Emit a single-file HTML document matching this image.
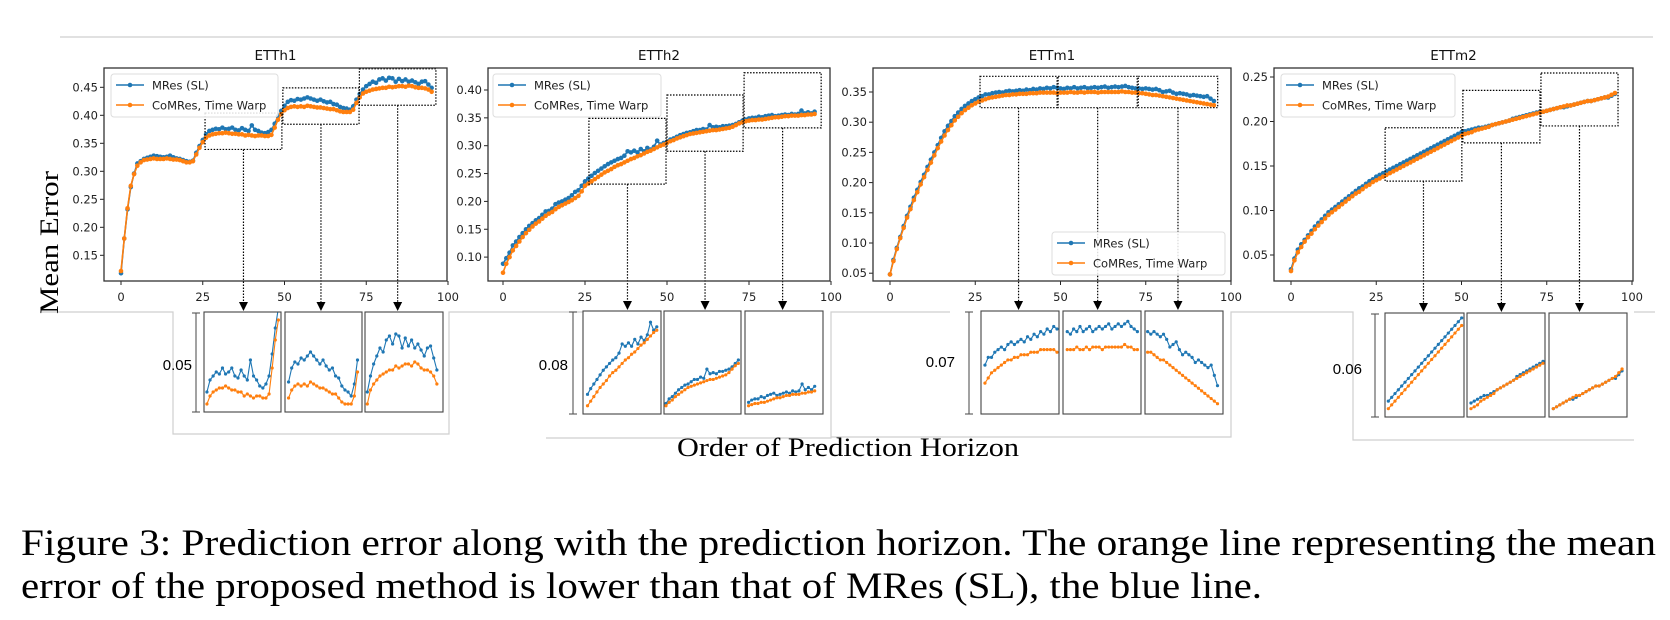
<!DOCTYPE html>
<html><head><meta charset="utf-8">
<style>
html,body{margin:0;padding:0;background:#fff;}
svg{display:block;}
.tk{font-family:"DejaVu Sans",sans-serif;font-size:11.5px;fill:#222;}
.ttl{font-family:"DejaVu Sans",sans-serif;font-size:13.5px;fill:#111;}
.lg{font-family:"DejaVu Sans",sans-serif;font-size:11.5px;fill:#222;}
.serif{font-family:"Liberation Serif",serif;fill:#000;}
.sb{font-family:"Liberation Sans",sans-serif;font-size:15px;fill:#000;}
</style></head>
<body>
<svg id="fig" width="1670" height="620" viewBox="0 0 1670 620" xmlns="http://www.w3.org/2000/svg">
<g id="frames" stroke="#cfcfcf" stroke-width="1.2" fill="none">
<line x1="60" y1="37" x2="1653" y2="37"/>
<polyline points="40,312 173,312 173,434 449,434 449,312 583,312"/>
<polyline points="546,438 831,438 831,312 950,312"/>
<polyline points="831,437 1231,437 1231,312 1353,312 1353,440 1634,440"/>
<line x1="1634" y1="312" x2="1655" y2="312"/>
</g>
<text class="serif" x="0" y="0" font-size="26" textLength="143" lengthAdjust="spacingAndGlyphs" transform="translate(58,243) rotate(-90)" dx="-71">Mean Error</text>
<text class="serif" x="677" y="456" font-size="26" textLength="342" lengthAdjust="spacingAndGlyphs">Order of Prediction Horizon</text>
<text class="serif" x="21" y="555" font-size="37" textLength="1635" lengthAdjust="spacingAndGlyphs">Figure 3: Prediction error along with the prediction horizon. The orange line representing the mean</text>
<text class="serif" x="21" y="598" font-size="37" textLength="1241" lengthAdjust="spacingAndGlyphs">error of the proposed method is lower than that of MRes (SL), the blue line.</text>
</svg>
<script>
const xTickLabels = [0, 25, 50, 75, 100];
const etth1Ticks = [0.15, 0.20, 0.25, 0.30, 0.35, 0.40, 0.45];
const etth2Ticks = [0.10, 0.15, 0.20, 0.25, 0.30, 0.35, 0.40];
const ettm1Ticks = [0.05, 0.10, 0.15, 0.20, 0.25, 0.30, 0.35];
const ettm2Ticks = [0.05, 0.10, 0.15, 0.20, 0.25];
const seriesNames = ['MRes (SL)', 'CoMRes, Time Warp'];
const scaleLabels = ['0.05', '0.08', '0.07', '0.06'];

const etth1MRes = [.118,.18,.232,.272,.296,.314,.318,.322,.324,.326,.328,.327,.326,.325,.326,.328,.325,.323,.322,.320,.318,.317,.319,.333,.345,.356,.366,.372,.374,.376,.375,.378,.375,.376,.378,.374,.373,.377,.374,.372,.382,.374,.372,.369,.368,.370,.374,.385,.398,.408,.417,.424,.427,.426,.429,.428,.430,.432,.430,.428,.426,.428,.425,.423,.424,.420,.419,.415,.413,.412,.410,.416,.428,.438,.446,.452,.456,.460,.458,.464,.466,.462,.467,.466,.460,.465,.461,.464,.460,.462,.459,.456,.460,.461,.455,.449];
const etth1CoMRes = [.122,.18,.234,.274,.295,.31,.316,.32,.321,.322,.323,.322,.322,.322,.323,.322,.321,.321,.32,.318,.316,.316,.318,.33,.342,.352,.36,.364,.366,.367,.368,.368,.369,.368,.367,.367,.366,.366,.364,.365,.364,.363,.364,.364,.363,.363,.365,.378,.392,.402,.409,.413,.415,.416,.415,.416,.415,.417,.416,.415,.414,.414,.413,.412,.411,.411,.409,.407,.406,.406,.406,.41,.422,.432,.439,.442,.444,.446,.447,.448,.449,.449,.451,.450,.451,.452,.452,.451,.453,.452,.450,.449,.449,.448,.446,.442];
const etth2MRes = [.088,.098,.108,.121,.128,.136,.143,.150,.156,.161,.166,.170,.176,.182,.183,.187,.195,.198,.200,.203,.206,.211,.217,.220,.228,.236,.241,.246,.251,.255,.259,.263,.267,.270,.273,.276,.278,.282,.290,.288,.291,.288,.294,.290,.296,.293,.298,.309,.302,.305,.307,.311,.313,.316,.319,.321,.323,.324,.326,.328,.328,.330,.329,.337,.333,.334,.333,.335,.335,.336,.337,.339,.342,.345,.347,.349,.350,.350,.352,.351,.353,.354,.355,.353,.354,.355,.356,.355,.357,.356,.357,.363,.358,.360,.358,.361];
const etth2CoMRes = [.072,.088,.100,.112,.120,.128,.136,.143,.149,.155,.160,.164,.169,.174,.178,.181,.186,.190,.193,.196,.199,.202,.206,.210,.218,.228,.232,.236,.240,.244,.248,.252,.255,.258,.262,.265,.267,.270,.273,.276,.278,.281,.283,.286,.289,.291,.294,.297,.300,.302,.305,.308,.310,.313,.315,.317,.319,.321,.322,.323,.324,.325,.326,.327,.328,.328,.329,.330,.331,.332,.334,.337,.340,.342,.344,.345,.346,.346,.347,.347,.348,.349,.350,.351,.351,.352,.353,.353,.354,.354,.354,.355,.355,.356,.356,.357];
const ettm1MRes = [.048,.072,.092,.110,.128,.145,.160,.175,.188,.201,.213,.226,.238,.250,.262,.274,.285,.294,.302,.310,.316,.322,.327,.331,.335,.338,.341,.343,.346,.346,.348,.349,.350,.349,.351,.352,.351,.352,.353,.352,.354,.353,.355,.354,.356,.355,.357,.356,.358,.357,.356,.355,.357,.356,.358,.356,.357,.358,.356,.357,.358,.357,.358,.359,.357,.358,.359,.358,.359,.360,.358,.357,.356,.356,.355,.356,.355,.354,.355,.353,.350,.351,.352,.349,.347,.348,.347,.346,.344,.345,.344,.343,.342,.343,.339,.335];
const ettm1CoMRes = [.048,.070,.090,.108,.125,.142,.156,.171,.184,.197,.209,.221,.233,.245,.257,.268,.278,.287,.295,.303,.309,.315,.320,.324,.328,.331,.334,.336,.338,.340,.341,.342,.343,.344,.345,.345,.346,.346,.347,.347,.347,.348,.348,.348,.349,.349,.349,.349,.349,.348,.349,.349,.349,.350,.349,.349,.350,.349,.350,.350,.350,.349,.350,.350,.350,.350,.350,.350,.351,.350,.350,.349,.349,.348,.348,.347,.346,.345,.345,.344,.343,.342,.341,.340,.339,.338,.337,.336,.335,.334,.333,.332,.331,.330,.329,.328];
const ettm2MRes = [.034,.046,.056,.062,.067,.072,.077,.082,.086,.090,.094,.098,.101,.104,.107,.110,.113,.116,.119,.122,.125,.127,.130,.133,.135,.138,.140,.142,.144,.146,.148,.150,.152,.154,.156,.158,.160,.162,.164,.166,.168,.170,.172,.174,.176,.178,.180,.182,.184,.186,.188,.189,.190,.191,.192,.193,.193,.194,.195,.196,.197,.198,.199,.200,.201,.203,.204,.205,.206,.207,.208,.209,.210,.211,.211,.212,.213,.214,.215,.216,.216,.217,.218,.219,.220,.221,.222,.223,.223,.224,.225,.226,.227,.227,.229,.231];
const ettm2CoMRes = [.032,.044,.053,.059,.065,.070,.074,.079,.083,.087,.091,.095,.098,.101,.104,.107,.110,.113,.116,.119,.121,.124,.127,.129,.132,.134,.136,.138,.140,.142,.144,.146,.148,.150,.152,.154,.156,.158,.160,.162,.164,.166,.168,.170,.172,.174,.176,.178,.180,.182,.184,.186,.187,.188,.190,.191,.192,.193,.194,.196,.197,.198,.199,.200,.201,.202,.203,.204,.205,.206,.207,.208,.209,.210,.211,.212,.213,.214,.215,.216,.217,.218,.218,.219,.220,.221,.222,.223,.223,.224,.225,.226,.227,.228,.230,.232];

const BLUE = '#1f77b4', ORANGE = '#ff7f0e';
const NS = 'http://www.w3.org/2000/svg';
const svg = document.getElementById('fig');

function el(tag, attrs, parent) {
  const e = document.createElementNS(NS, tag);
  for (const k in attrs) e.setAttribute(k, attrs[k]);
  (parent || svg).appendChild(e);
  return e;
}

const panels = [
  {key:'etth1', title:'ETTh1', blue:etth1MRes, orange:etth1CoMRes, ticks:etth1Ticks,
   L:104, R:447, T:68, B:281, x0:121, xu:3.27, yRef:0.45, yRefPx:87.3, yu:560,
   legend:[111,74,167,43],
   boxes:[[25.7,49.2,0.339,0.404],[49.5,72.8,0.384,0.449],[72.9,96.3,0.418,0.483]],
   insets:[[204,281],[285,362],[365,443]], iT:312, iB:412, span:0.05, shared:false,
   sbX:196, sbLabel:0, sbLabelR:192, sbLabelY:370},
  {key:'etth2', title:'ETTh2', blue:etth2MRes, orange:etth2CoMRes, ticks:etth2Ticks,
   L:488, R:830, T:68, B:281, x0:503, xu:3.28, yRef:0.40, yRefPx:90, yu:557,
   legend:[493,74,168,43],
   boxes:[[26.2,49.7,0.231,0.349],[50,73.2,0.290,0.391],[73.5,97,0.332,0.431]],
   insets:[[583,661],[664,741],[745,823]], iT:311, iB:414, span:0.09, shared:false,
   sbX:573, sbLabel:1, sbLabelR:568, sbLabelY:370},
  {key:'ettm1', title:'ETTm1', blue:ettm1MRes, orange:ettm1CoMRes, ticks:ettm1Ticks,
   L:873, R:1231, T:68, B:281, x0:890, xu:3.41, yRef:0.35, yRefPx:92, yu:604,
   legend:[1052,232,173,43],
   boxes:[[26.4,49,0.324,0.376],[49.3,72.5,0.324,0.376],[72.8,96.1,0.324,0.376]],
   insets:[[981,1059],[1063,1141],[1145,1223]], iT:311, iB:414, span:0.04, shared:true,
   sbX:969, sbLabel:2, sbLabelR:955, sbLabelY:367},
  {key:'ettm2', title:'ETTm2', blue:ettm2MRes, orange:ettm2CoMRes, ticks:ettm2Ticks,
   L:1274, R:1633, T:68, B:281, x0:1291, xu:3.41, yRef:0.25, yRefPx:77, yu:890,
   legend:[1281,74,174,43],
   boxes:[[27.6,50.1,0.133,0.193],[50.4,73,0.176,0.235],[73.3,95.9,0.195,0.2545]],
   insets:[[1385,1464],[1467,1545],[1549,1627]], iT:313, iB:417, span:0.055, shared:false,
   sbX:1375, sbLabel:3, sbLabelR:1362, sbLabelY:374}
];

function drawPanel(p, idx) {
  const g = el('g', {});
  
  
  const xs = v => p.x0 + v * p.xu;
  const ys = v => p.yRefPx - (v - p.yRef) * p.yu;

  const clip = el('clipPath', {id: 'clip-' + p.key}, g);
  el('rect', {x:p.L, y:p.T, width:p.R-p.L, height:p.B-p.T}, clip);

  const title = el('text', {x:(p.L+p.R)/2, y:p.T-8, 'text-anchor':'middle', class:'ttl'}, g);
  
  
  title.textContent = p.title;

  xTickLabels.forEach(t => {
    const x = xs(t);
    el('line', {x1:x, y1:p.B, x2:x, y2:p.B+4, stroke:'#222', 'stroke-width':1}, g);
    const tx = el('text', {x:x, y:p.B+20, 'text-anchor':'middle', class:'tk'}, g);
    
    
    tx.textContent = String(t);
  });
  p.ticks.forEach(t => {
    const y = ys(t);
    el('line', {x1:p.L-4, y1:y, x2:p.L, y2:y, stroke:'#222', 'stroke-width':1}, g);
    const ty = el('text', {x:p.L-6, y:y+4, 'text-anchor':'end', class:'tk'}, g);
    
    
    ty.textContent = t.toFixed(2);
  });

  const pg = el('g', {'clip-path':'url(#clip-' + p.key + ')'}, g);
  [[p.blue, BLUE, 'mres-line'], [p.orange, ORANGE, 'comres-line']].forEach(([arr, col, nm]) => {
    const pts = arr.map((v, i) => xs(i).toFixed(2) + ',' + ys(v).toFixed(2)).join(' ');
    const line = el('polyline', {points:pts, fill:'none', stroke:col, 'stroke-width':1.6}, pg);
    
    
    arr.forEach((v, i) => {
      el('circle', {cx:xs(i), cy:ys(v), r:2.3, fill:col}, pg);
    });
  });

  p.boxes.forEach((b, k) => {
    const bx0 = xs(b[0]), bx1 = xs(b[1]), by0 = ys(b[3]), by1 = ys(b[2]);
    const r = el('rect', {x:bx0, y:by0, width:bx1-bx0, height:by1-by0, fill:'none', stroke:'#000', 'stroke-width':1.2, 'stroke-dasharray':'1.5,1.5'}, g);
    
    
    const cx = (bx0 + bx1) / 2;
    el('line', {x1:cx, y1:by1, x2:cx, y2:p.iT-9, stroke:'#000', 'stroke-width':1.2, 'stroke-dasharray':'1.5,1.5'}, g);
    const ah = el('polygon', {points:(cx-4.5)+','+(p.iT-10)+' '+(cx+4.5)+','+(p.iT-10)+' '+cx+','+(p.iT-1), fill:'#000'}, g);
    
    
  });

  el('rect', {x:p.L, y:p.T, width:p.R-p.L, height:p.B-p.T, fill:'none', stroke:'#333', 'stroke-width':1.3}, g);

  const [lx, ly, lw, lh] = p.legend;
  const lg = el('g', {}, g);
  
  
  el('rect', {x:lx, y:ly, width:lw, height:lh, rx:3, fill:'#fff', 'fill-opacity':0.85, stroke:'#ddd', 'stroke-width':1}, lg);
  [[BLUE, 0], [ORANGE, 1]].forEach(([col, j]) => {
    const ry = ly + 11 + j * 20;
    el('line', {x1:lx+5, y1:ry, x2:lx+33, y2:ry, stroke:col, 'stroke-width':1.6}, lg);
    el('circle', {cx:lx+19, cy:ry, r:2.3, fill:col}, lg);
    const t = el('text', {x:lx+41, y:ry+4.5, class:'lg'}, lg);
    
    
    t.textContent = seriesNames[j];
  });

  const iH = p.iB - p.iT;
  let sharedLo = null;
  if (p.shared) {
    let m = Infinity;
    p.boxes.forEach(b => {
      for (let i = Math.ceil(b[0]); i <= Math.floor(b[1]) && i < 96; i++) m = Math.min(m, p.blue[i], p.orange[i]);
    });
    sharedLo = m - 0.1 * p.span;
  }
  p.insets.forEach((ins, k) => {
    const b = p.boxes[k];
    const ig = el('g', {}, g);
    
    
    const i0 = Math.ceil(b[0]), i1 = Math.min(95, Math.floor(b[1]));
    let m = Infinity;
    for (let i = i0; i <= i1; i++) m = Math.min(m, p.blue[i], p.orange[i]);
    const lo = p.shared ? sharedLo : m - 0.08 * p.span;
    const ixs = v => ins[0] + 2 + (v - b[0]) / (b[1] - b[0]) * (ins[1] - ins[0] - 4);
    const iys = v => p.iB - (v - lo) / p.span * iH;
    const cid = 'clip-' + p.key + '-i' + k;
    const c = el('clipPath', {id:cid}, ig);
    el('rect', {x:ins[0], y:p.iT, width:ins[1]-ins[0], height:iH}, c);
    const sg = el('g', {'clip-path':'url(#'+cid+')'}, ig);
    [[p.blue, BLUE], [p.orange, ORANGE]].forEach(([arr, col]) => {
      const pts = [];
      for (let i = i0; i <= i1; i++) pts.push(ixs(i).toFixed(2) + ',' + iys(arr[i]).toFixed(2));
      el('polyline', {points:pts.join(' '), fill:'none', stroke:col, 'stroke-width':1.1}, sg);
      for (let i = i0; i <= i1; i++) el('circle', {cx:ixs(i), cy:iys(arr[i]), r:1.6, fill:col}, sg);
    });
    el('rect', {x:ins[0], y:p.iT, width:ins[1]-ins[0], height:iH, fill:'none', stroke:'#444', 'stroke-width':1.1}, ig);
  });

  const sb = el('g', {stroke:'#555', 'stroke-width':1.1}, g);
  
  
  el('line', {x1:p.sbX, y1:p.iT+1, x2:p.sbX, y2:p.iB}, sb);
  el('line', {x1:p.sbX-4, y1:p.iT+1, x2:p.sbX+4, y2:p.iT+1}, sb);
  el('line', {x1:p.sbX-4, y1:p.iB, x2:p.sbX+4, y2:p.iB}, sb);
  const sl = el('text', {x:p.sbLabelR, y:p.sbLabelY, 'text-anchor':'end', class:'sb'}, g);
  
  
  sl.textContent = scaleLabels[p.sbLabel];
}

panels.forEach(drawPanel);
</script>
</body></html>
